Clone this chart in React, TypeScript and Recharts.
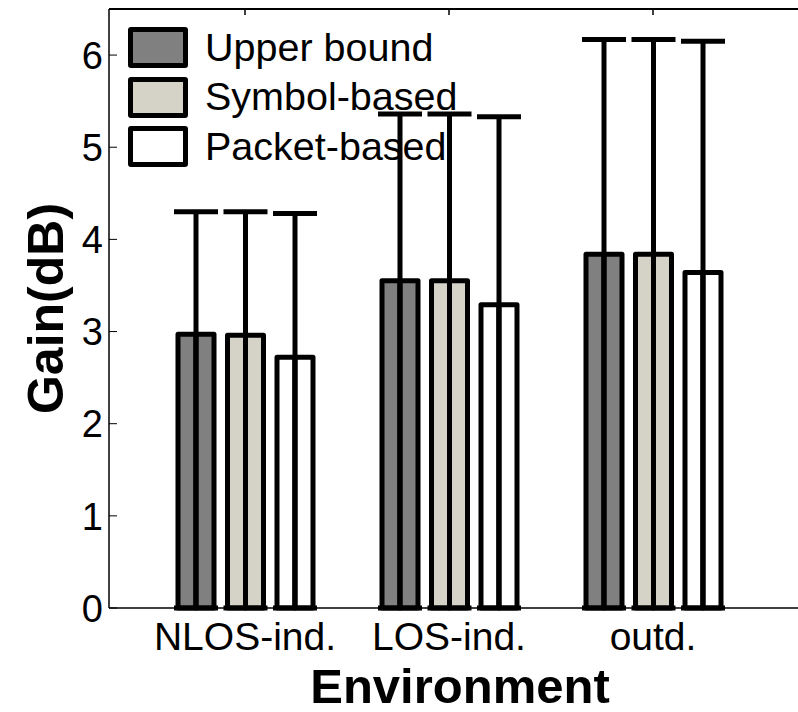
import { BarChart, Bar, XAxis, YAxis, ErrorBar, Legend } from "recharts";

const categories = ["NLOS-ind.", "LOS-ind.", "outd."];
const seriesNames = ["Upper bound", "Symbol-based", "Packet-based"];
const upperBound = [2.97, 3.55, 3.84];
const symbolBased = [2.96, 3.55, 3.84];
const packetBased = [2.72, 3.29, 3.64];
// top of each error whisker
const upperBoundTop = [4.3, 5.36, 6.17];
const symbolBasedTop = [4.3, 5.36, 6.17];
const packetBasedTop = [4.28, 5.33, 6.15];
const yTicks = [0, 1, 2, 3, 4, 5, 6];
const yMax = 6.5;

const FONT = "'Liberation Sans', Arial, sans-serif";

const data = categories.map((name, i) => ({
  name,
  upper: upperBound[i],
  upperErr: [upperBound[i], upperBoundTop[i] - upperBound[i]],
  symbol: symbolBased[i],
  symbolErr: [symbolBased[i], symbolBasedTop[i] - symbolBased[i]],
  packet: packetBased[i],
  packetErr: [packetBased[i], packetBasedTop[i] - packetBased[i]],
}));

// matlab draws the whisker through the bar, so split it in two outlined halves
const renderBar = (props: any) => {
  const x = Number(props.x);
  const y = Number(props.y);
  const w = Number(props.width);
  const h = Number(props.height);
  const half = w / 2;
  return (
    <g>
      <rect x={x} y={y} width={half} height={h} fill={props.fill} stroke="#000" strokeWidth={5} strokeLinejoin="round" />
      <rect x={x + half} y={y} width={half} height={h} fill={props.fill} stroke="#000" strokeWidth={5} strokeLinejoin="round" />
    </g>
  );
};

const YTick = (props: any) => {
  const { x, y, payload } = props;
  return (
    <g>
      <line x1={x + 6} y1={y} x2={x + 14} y2={y} stroke="#000" strokeWidth={1} />
      <text x={x} y={y} dy="0.36em" textAnchor="end" fontSize={38} fontFamily={FONT} fill="#000">
        {payload.value}
      </text>
    </g>
  );
};

const TopTick = (props: any) => {
  const { x, y } = props;
  return <line x1={x} y1={y} x2={x} y2={y + 6} stroke="#000" strokeWidth={1.5} />;
};

const renderLegend = ({ payload }: any) => {
  const items = [...(payload || [])].sort(
    (a: any, b: any) => seriesNames.indexOf(a.value) - seriesNames.indexOf(b.value)
  );
  return (
    <div>
      {items.map((entry: any) => (
        <div key={entry.value} style={{ display: "flex", alignItems: "center", height: 49.5 }}>
          <span
            style={{
              width: 50,
              height: 31,
              border: "5px solid #000",
              borderRadius: 3,
              background: entry.color,
              display: "inline-block",
            }}
          />
          <span style={{ marginLeft: 17, fontSize: 39.5, fontFamily: FONT, color: "#000", lineHeight: 1 }}>
            {entry.value}
          </span>
        </div>
      ))}
    </div>
  );
};

export default function App() {
  return (
    <div style={{ position: "absolute", left: 0, top: 0, width: 798, height: 712, overflow: "hidden", background: "#fff" }}>
      <BarChart
        width={811}
        height={712}
        data={data}
        margin={{ top: 0, right: 0, left: 0, bottom: 0 }}
        barSize={36}
        barGap={13.5}
      >
        <XAxis
          dataKey="name"
          xAxisId="top"
          orientation="top"
          height={9}
          padding={{ left: 34, right: 56 }}
          stroke="#000"
          strokeWidth={2}
          tickLine={false}
          tickSize={0}
          tickMargin={0}
          tick={<TopTick />}
        />
        <XAxis
          dataKey="name"
          height={104}
          padding={{ left: 34, right: 56 }}
          stroke="#000"
          strokeWidth={1.5}
          tickLine={false}
          tickSize={6}
          tickMargin={8}
          tick={{ fill: "#000", fontSize: 39, fontFamily: FONT }}
          label={{
            value: "Environment",
            content: ({ viewBox }: any) => (
              <text
                x={viewBox.x + viewBox.width / 2}
                y={viewBox.y + viewBox.height - 9}
                textAnchor="middle"
                fontSize={49}
                fontWeight="bold"
                fontFamily={FONT}
                fill="#000"
              >
                Environment
              </text>
            ),
          }}
        />
        <YAxis
          width={109}
          domain={[0, yMax]}
          ticks={yTicks}
          stroke="#000"
          strokeWidth={1.5}
          tickLine={false}
          tickSize={0}
          tickMargin={6}
          tick={<YTick />}
          label={{
            value: "Gain(dB)",
            content: ({ viewBox }: any) => {
              const cx = viewBox.x + 46;
              const cy = viewBox.y + viewBox.height / 2;
              return (
                <text
                  x={cx}
                  y={cy}
                  transform={`rotate(-90 ${cx} ${cy})`}
                  textAnchor="middle"
                  dominantBaseline="central"
                  fontSize={50}
                  fontWeight="bold"
                  fontFamily={FONT}
                  fill="#000"
                >
                  Gain(dB)
                </text>
              );
            },
          }}
        />
        <Legend
          layout="vertical"
          align="center"
          verticalAlign="middle"
          content={renderLegend}
          wrapperStyle={{ left: 128, top: 22.75, width: "auto" }}
        />
        <Bar dataKey="upper" name={seriesNames[0]} fill="#808080" shape={renderBar} isAnimationActive={false}>
          <ErrorBar dataKey="upperErr" width={22} stroke="#000" strokeWidth={5} isAnimationActive={false} />
        </Bar>
        <Bar dataKey="symbol" name={seriesNames[1]} fill="#d5d3c8" shape={renderBar} isAnimationActive={false}>
          <ErrorBar dataKey="symbolErr" width={22} stroke="#000" strokeWidth={5} isAnimationActive={false} />
        </Bar>
        <Bar dataKey="packet" name={seriesNames[2]} fill="#ffffff" shape={renderBar} isAnimationActive={false}>
          <ErrorBar dataKey="packetErr" width={22} stroke="#000" strokeWidth={5} isAnimationActive={false} />
        </Bar>
      </BarChart>
    </div>
  );
}
